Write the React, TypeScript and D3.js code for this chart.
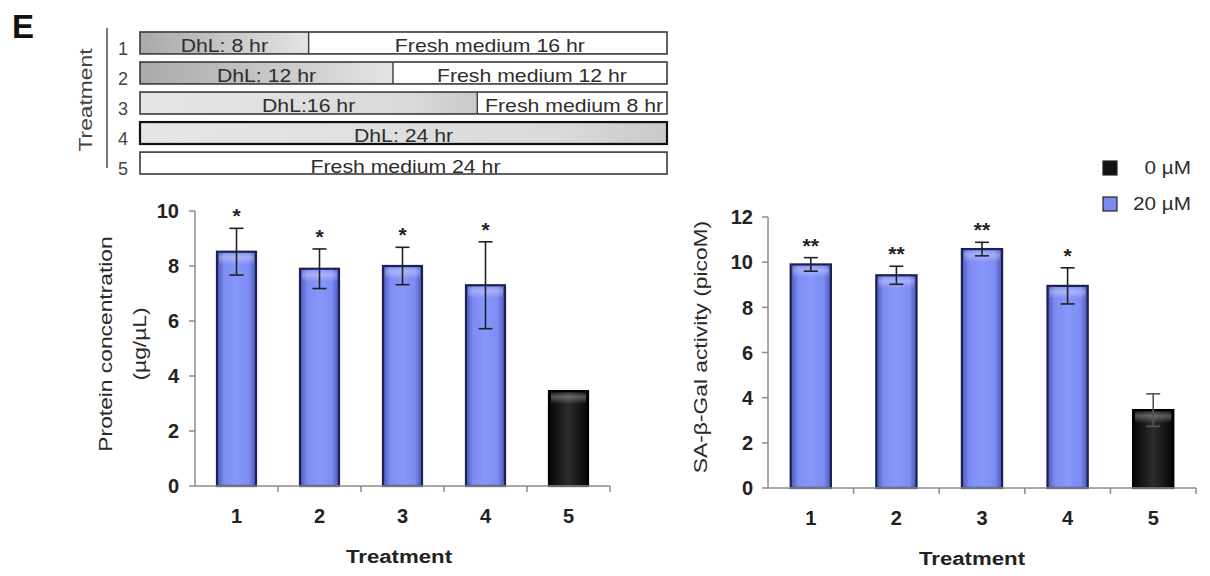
import React from "react";
import * as d3 from "d3";

// ---------- data ----------
const treatments = ["1", "2", "3", "4", "5"];
const dhlHours = [8, 12, 16, 24, 0];
const freshHours = [16, 12, 8, 0, 24];
const dhlLabels = ["DhL: 8 hr", "DhL: 12 hr", "DhL:16 hr", "DhL: 24 hr", ""];
const freshLabels = ["Fresh medium 16 hr", "Fresh medium 12 hr", "Fresh medium 8 hr", "", "Fresh medium 24 hr"];

const doseGroup = ["20 µM", "20 µM", "20 µM", "20 µM", "0 µM"];
const legendLabels = ["0 µM", "20 µM"];

const proteinMean = [8.52, 7.9, 8.0, 7.3, 3.45];
const proteinErr = [0.85, 0.72, 0.68, 1.58, 0];
const proteinSig = ["*", "*", "*", "*", ""];
const proteinTicks = [0, 2, 4, 6, 8, 10];

const galMean = [9.9, 9.42, 10.58, 8.95, 3.45];
const galErr = [0.3, 0.4, 0.3, 0.8, 0.72];
const galSig = ["**", "**", "**", "*", ""];
const galTicks = [0, 2, 4, 6, 8, 10, 12];

const FONT = "'Liberation Sans', Arial, Helvetica, sans-serif";

function SText({ x, y, rotate = 0, sx = 1.2, size = 18, anchor = "middle", weight = "normal", fill = "#333", children }: any) {
  return (
    <text
      transform={`translate(${x},${y}) rotate(${rotate}) scale(${sx},1)`}
      textAnchor={anchor}
      fontSize={size}
      fontWeight={weight}
      fill={fill}
      fontFamily={FONT}
    >
      {children}
    </text>
  );
}

function BarChart({ means, errs, sigs, ticks, yMax, x0, x1, yTop, yBottom, labelRight, titleLines, titleX, titleY, xTitleX }: any) {
  const x = d3.scaleBand().domain(treatments).range([x0, x1]).paddingInner(0.53).paddingOuter(0.265);
  const y = d3.scaleLinear().domain([0, yMax]).range([yBottom, yTop]);
  const step = x.step();
  const axisColor = "#8c8c8c";
  return (
    <g>
      {/* bars */}
      {treatments.map((t, i) => {
        const bx = x(t)!;
        const bw = x.bandwidth();
        const top = y(means[i]);
        const isBlue = doseGroup[i] === legendLabels[1];
        return (
          <g key={t}>
            <rect x={bx} y={top} width={bw} height={yBottom - top} fill={isBlue ? "url(#gBlue)" : "url(#gBlack)"} />
            <rect x={bx + 2} y={top + 1} width={bw - 4} height={Math.min(12, yBottom - top)} fill="url(#gHi)" />
            <rect x={bx} y={top} width={bw} height={yBottom - top} fill="none" stroke={isBlue ? "#1d2050" : "#000"} strokeWidth={2.2} />
          </g>
        );
      })}
      {/* error bars */}
      {treatments.map((t, i) => {
        if (!errs[i]) return null;
        const cx = x(t)! + x.bandwidth() / 2;
        const hi = y(means[i] + errs[i]);
        const lo = y(means[i] - errs[i]);
        const col = doseGroup[i] === legendLabels[1] ? "#222" : "#555";
        return (
          <g key={"e" + t} stroke={col} strokeWidth={1.6}>
            <line x1={cx} x2={cx} y1={hi} y2={lo} />
            <line x1={cx - 7} x2={cx + 7} y1={hi} y2={hi} />
            <line x1={cx - 7} x2={cx + 7} y1={lo} y2={lo} />
          </g>
        );
      })}
      {/* significance */}
      {treatments.map((t, i) => {
        if (!sigs[i]) return null;
        const cx = x(t)! + x.bandwidth() / 2;
        const hi = y(means[i] + errs[i]);
        return (
          <text key={"s" + t} x={cx} y={hi - 5} textAnchor="middle" fontSize={21} fontWeight="bold" fill="#222" fontFamily={FONT}>
            {sigs[i]}
          </text>
        );
      })}
      {/* axes */}
      <line x1={x0} x2={x0} y1={yTop} y2={yBottom} stroke={axisColor} strokeWidth={1.5} />
      <line x1={x0} x2={x1} y1={yBottom} y2={yBottom} stroke={axisColor} strokeWidth={1.5} />
      {ticks.map((v: number) => (
        <g key={"yt" + v}>
          <line x1={x0 - 6} x2={x0} y1={y(v)} y2={y(v)} stroke={axisColor} strokeWidth={1.5} />
          <text x={labelRight} y={y(v)} dy="0.36em" textAnchor="end" fontSize={20} fontWeight="bold" fill="#222" fontFamily={FONT}>
            {v}
          </text>
        </g>
      ))}
      {treatments.map((t, i) => (
        <line key={"xt" + t} x1={x0 + step * (i + 1)} x2={x0 + step * (i + 1)} y1={yBottom} y2={yBottom + 6} stroke={axisColor} strokeWidth={1.5} />
      ))}
      {treatments.map((t) => (
        <text key={"xl" + t} x={x(t)! + x.bandwidth() / 2} y={yBottom + 37} textAnchor="middle" fontSize={20} fontWeight="bold" fill="#222" fontFamily={FONT}>
          {t}
        </text>
      ))}
      <SText x={xTitleX} y={yBottom + 77} size={19} weight="bold" sx={1.17} fill="#222">Treatment</SText>
      {titleLines.map((ln: string, k: number) => (
        <SText key={"tt" + k} x={titleX[k]} y={titleY} rotate={-90} size={19} sx={1.2} fill="#2a2a2a">{ln}</SText>
      ))}
    </g>
  );
}

export default function App() {
  const rowY = d3.scaleBand().domain(treatments).range([32, 174]).paddingInner(0.27).paddingOuter(0);
  const hx = d3.scaleLinear().domain([0, 25]).range([140, 667]);
  const boxEnd = 667;

  return (
    <svg width={1210} height={576} style={{ position: "absolute", left: 0, top: 0, background: "#fff" }} fontFamily={FONT}>
      <defs>
        <linearGradient id="gBlue" x1="0" x2="1" y1="0" y2="0">
          <stop offset="0" stopColor="#4a55b5" />
          <stop offset="0.18" stopColor="#7d8cf2" />
          <stop offset="0.5" stopColor="#8797fb" />
          <stop offset="0.82" stopColor="#7d8cf2" />
          <stop offset="1" stopColor="#4a55b5" />
        </linearGradient>
        <linearGradient id="gBlack" x1="0" x2="1" y1="0" y2="0">
          <stop offset="0" stopColor="#050505" />
          <stop offset="0.5" stopColor="#2c2c2c" />
          <stop offset="1" stopColor="#050505" />
        </linearGradient>
        <linearGradient id="gHi" x1="0" x2="0" y1="0" y2="1">
          <stop offset="0" stopColor="#ffffff" stopOpacity="0.05" />
          <stop offset="0.4" stopColor="#ffffff" stopOpacity="0.3" />
          <stop offset="1" stopColor="#ffffff" stopOpacity="0" />
        </linearGradient>
        <linearGradient id="gDark" x1="0" x2="1" y1="0" y2="0">
          <stop offset="0" stopColor="#a9a9a9" />
          <stop offset="1" stopColor="#e4e4e4" />
        </linearGradient>
        <linearGradient id="gLight" x1="0" x2="1" y1="0" y2="0">
          <stop offset="0" stopColor="#e6e6e6" />
          <stop offset="0.8" stopColor="#dadada" />
          <stop offset="1" stopColor="#c9c9c9" />
        </linearGradient>
      </defs>

      {/* panel letter */}
      <text x={12} y={38} fontSize={33} fontWeight="bold" fill="#111" fontFamily={FONT}>E</text>

      {/* schematic */}
      <line x1={107} x2={107} y1={28} y2={168} stroke="#555" strokeWidth={1.6} />
      <SText x={92} y={100} rotate={-90} size={19} sx={1.2} fill="#444">Treatment</SText>
      {treatments.map((t, i) => {
        const top = rowY(t)!;
        const h = rowY.bandwidth();
        const split = freshHours[i] > 0 ? hx(dhlHours[i]) : boxEnd;
        const freshStart = dhlHours[i] > 0 ? split : hx(0);
        const fill = i < 2 ? "url(#gDark)" : "url(#gLight)";
        return (
          <g key={"row" + t}>
            <text x={123} y={top + h + 1} textAnchor="middle" fontSize={18} fill="#444" fontFamily={FONT}>{t}</text>
            {dhlHours[i] > 0 && <rect x={hx(0)} y={top} width={split - hx(0)} height={h} fill={fill} />}
            {freshHours[i] > 0 && <rect x={freshStart} y={top} width={boxEnd - freshStart} height={h} fill="#fff" />}
            <rect x={hx(0)} y={top} width={boxEnd - hx(0)} height={h} fill="none" stroke={i === 3 ? "#111" : "#3a3a3a"} strokeWidth={i === 3 ? 2.2 : 1.6} />
            {dhlHours[i] > 0 && freshHours[i] > 0 && (
              <line x1={split} x2={split} y1={top} y2={top + h} stroke="#3a3a3a" strokeWidth={1.4} />
            )}
            {dhlLabels[i] && (
              <SText x={(hx(0) + split) / 2} y={top + h - 1.5} size={18} sx={1.18} fill="#2e2e2e">{dhlLabels[i]}</SText>
            )}
            {freshLabels[i] && (
              <SText x={(freshStart + boxEnd) / 2 + 2} y={top + h - 1.5} size={18} sx={1.18} fill="#2e2e2e">{freshLabels[i]}</SText>
            )}
          </g>
        );
      })}

      {/* left chart */}
      <BarChart
        means={proteinMean}
        errs={proteinErr}
        sigs={proteinSig}
        ticks={proteinTicks}
        yMax={10}
        x0={195}
        x1={610}
        yTop={211}
        yBottom={486}
        labelRight={179}
        titleLines={["Protein concentration", "(µg/µL)"]}
        titleX={[112, 146]}
        titleY={344}
        xTitleX={399}
      />

      {/* right chart */}
      <BarChart
        means={galMean}
        errs={galErr}
        sigs={galSig}
        ticks={galTicks}
        yMax={12}
        x0={768}
        x1={1196}
        yTop={217}
        yBottom={488}
        labelRight={753}
        titleLines={["SA-β-Gal activity (picoM)"]}
        titleX={[707]}
        titleY={347}
        xTitleX={972}
      />

      {/* legend */}
      {legendLabels.map((lab, k) => (
        <g key={"lg" + k}>
          <rect x={1103} y={161 + k * 36} width={14} height={14} fill={k === 0 ? "#111" : "#7d8cf2"} stroke="#222" strokeWidth={1.2} />
          <SText x={1191} y={174 + k * 36} anchor="end" size={18} sx={1.15} fill="#2e2e2e">{lab}</SText>
        </g>
      ))}
    </svg>
  );
}
